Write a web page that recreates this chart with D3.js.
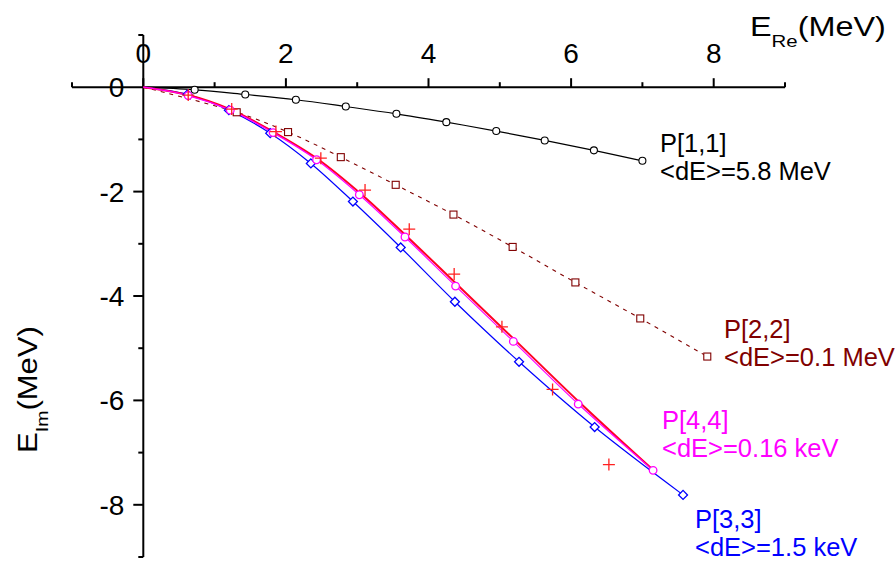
<!DOCTYPE html>
<html>
<head>
<meta charset="utf-8">
<script src="https://cdn.jsdelivr.net/npm/d3@7"></script>
<style>
  html, body { margin: 0; padding: 0; background: #fff; }
  svg { display: block; font-family: "Liberation Sans", Arial, sans-serif; }
</style>
</head>
<body>
<svg width="896" height="561"></svg>
<script>
// data: [E_Re, E_Im] in MeV
const p11 = [[0.72,-0.05],[1.43,-0.14],[2.14,-0.24],[2.84,-0.37],[3.55,-0.51],[4.25,-0.67],[4.95,-0.84],[5.63,-1.02],[6.32,-1.21],[7.0,-1.41]];
const p22 = [[1.31,-0.48],[2.03,-0.86],[2.77,-1.34],[3.54,-1.87],[4.35,-2.44],[5.18,-3.06],[6.06,-3.74],[6.97,-4.43],[7.91,-5.16]];
const p33 = [[0.62,-0.14],[1.20,-0.44],[1.78,-0.88],[2.35,-1.46],[2.94,-2.19],[3.61,-3.07],[4.37,-4.11],[5.27,-5.26],[6.33,-6.51],[7.57,-7.81]];
const p44 = [[0.63,-0.16],[1.22,-0.44],[1.82,-0.87],[2.43,-1.39],[3.03,-2.06],[3.67,-2.87],[4.38,-3.81],[5.19,-4.87],[6.10,-6.07],[7.15,-7.34]];
const exact = [[0.63,-0.15],[1.24,-0.42],[1.86,-0.85],[2.49,-1.36],[3.11,-1.97],[3.73,-2.72],[4.36,-3.58],[5.03,-4.59],[5.74,-5.79],[6.53,-7.23]];
const redLine = [[0.63,-0.15],[1.23,-0.43],[1.83,-0.86],[2.44,-1.37],[3.05,-2.04],[3.69,-2.85],[4.40,-3.78],[5.21,-4.84],[6.12,-6.04],[7.14,-7.32]];

const xTicks = [0, 2, 4, 6, 8];
const xMinor = [-1, 1, 3, 5, 7, 9];
const yTicks = [0, -2, -4, -6, -8];
const yMinor = [1, -1, -3, -5, -7, -9];

const labels = [
  {lines: ["P[1,1]", "<dE>=5.8 MeV"], color: "#000000", x: 660, y: 151.5},
  {lines: ["P[2,2]", "<dE>=0.1 MeV"], color: "#800000", x: 724, y: 338},
  {lines: ["P[4,4]", "<dE>=0.16 keV"], color: "#ff00ff", x: 662, y: 429},
  {lines: ["P[3,3]", "<dE>=1.5 keV"], color: "#0000ff", x: 695, y: 528}
];

const svg = d3.select("svg");
const x = d3.scaleLinear().domain([-1, 9]).range([72, 785]);
const y = d3.scaleLinear().domain([1, -9]).range([35, 557]);

const origin = [0, 0];
const line = d3.line().x(d => x(d[0])).y(d => y(d[1])).curve(d3.curveCatmullRom);

// axes through the origin
const xAxis = svg.append("g").attr("transform", `translate(0,${y(0)})`);
xAxis.append("line").attr("x1", x(-1)).attr("x2", x(9)).attr("stroke", "#000").attr("stroke-width", 2);
xAxis.selectAll(".maj").data(xTicks).join("line")
  .attr("x1", d => x(d)).attr("x2", d => x(d)).attr("y1", 0).attr("y2", -9)
  .attr("stroke", "#000").attr("stroke-width", 2);
xAxis.selectAll(".min").data(xMinor).join("line")
  .attr("x1", d => x(d)).attr("x2", d => x(d)).attr("y1", 0).attr("y2", -5)
  .attr("stroke", "#000").attr("stroke-width", 2);
xAxis.selectAll("text").data(xTicks).join("text")
  .attr("x", d => x(d)).attr("y", -24)
  .attr("text-anchor", "middle").attr("font-size", 28).text(d => d);

const yAxis = svg.append("g").attr("transform", `translate(${x(0)},0)`);
yAxis.append("line").attr("y1", y(1)).attr("y2", y(-9)).attr("stroke", "#000").attr("stroke-width", 2);
yAxis.selectAll(".maj").data(yTicks.filter(d => d !== 0)).join("line")
  .attr("y1", d => y(d)).attr("y2", d => y(d)).attr("x1", 0).attr("x2", -10)
  .attr("stroke", "#000").attr("stroke-width", 2);
yAxis.selectAll(".min").data(yMinor).join("line")
  .attr("y1", d => y(d)).attr("y2", d => y(d)).attr("x1", 0).attr("x2", -5)
  .attr("stroke", "#000").attr("stroke-width", 2);
yAxis.selectAll("text").data(yTicks).join("text")
  .attr("x", -19).attr("y", d => y(d) + 10)
  .attr("text-anchor", "end").attr("font-size", 28).text(d => d);

// axis titles (drawn a bit wide, like the original)
const xt = svg.append("text").attr("transform", "translate(750,36) scale(1.2,1)").attr("font-size", 27);
xt.append("tspan").text("E");
xt.append("tspan").attr("font-size", 17).attr("dy", 11).text("Re");
xt.append("tspan").attr("dy", -11).text("(MeV)");

const yt = svg.append("text").attr("transform", "translate(37,453) rotate(-90) scale(1.15,1)").attr("font-size", 27);
yt.append("tspan").text("E");
yt.append("tspan").attr("font-size", 17).attr("dy", 11).text("Im");
yt.append("tspan").attr("dy", -11).text("(MeV)");

// curves
svg.append("path").attr("d", line([origin, ...p11])).attr("fill", "none").attr("stroke", "#000").attr("stroke-width", 1.2);
svg.append("path").attr("d", line([origin, ...p22])).attr("fill", "none").attr("stroke", "#800000")
  .attr("stroke-width", 1.1).attr("stroke-dasharray", "4,5");
svg.append("path").attr("d", line([origin, ...p33])).attr("fill", "none").attr("stroke", "#0000ff").attr("stroke-width", 1.2);
svg.append("path").attr("d", line([origin, ...redLine])).attr("fill", "none").attr("stroke", "#ff0022").attr("stroke-width", 2);
svg.append("path").attr("d", line([origin, ...p44])).attr("fill", "none").attr("stroke", "#ff00ff").attr("stroke-width", 1.2);

// markers
svg.append("g").selectAll("circle").data(p11).join("circle")
  .attr("cx", d => x(d[0])).attr("cy", d => y(d[1])).attr("r", 3.5)
  .attr("fill", "#fff").attr("stroke", "#000").attr("stroke-width", 1.1);
svg.append("g").selectAll("rect").data(p22).join("rect")
  .attr("x", d => x(d[0]) - 3.5).attr("y", d => y(d[1]) - 3.5).attr("width", 7).attr("height", 7)
  .attr("fill", "#fff").attr("stroke", "#800000").attr("stroke-width", 1.1);
svg.append("g").selectAll("path").data(p33).join("path")
  .attr("d", d3.symbol(d3.symbolSquare, 40))
  .attr("transform", d => `translate(${x(d[0])},${y(d[1])}) rotate(45)`)
  .attr("fill", "#fff").attr("stroke", "#0000ff").attr("stroke-width", 1.3);
svg.append("g").selectAll("circle").data(p44).join("circle")
  .attr("cx", d => x(d[0])).attr("cy", d => y(d[1])).attr("r", 3.8)
  .attr("fill", "#fff").attr("stroke", "#ff00ff").attr("stroke-width", 1.3);
svg.append("g").selectAll("path").data(exact).join("path")
  .attr("d", "M-6,0H6M0,-6V6")
  .attr("transform", d => `translate(${x(d[0])},${y(d[1])})`)
  .attr("fill", "none").attr("stroke", "#ff2020").attr("stroke-width", 1.3);

// series labels
labels.forEach(l => {
  svg.append("g").selectAll("text").data(l.lines).join("text")
    .attr("x", l.x).attr("y", (d, i) => l.y + i * 28)
    .attr("font-size", 25.5).attr("fill", l.color).text(d => d);
});
</script>
</body>
</html>
